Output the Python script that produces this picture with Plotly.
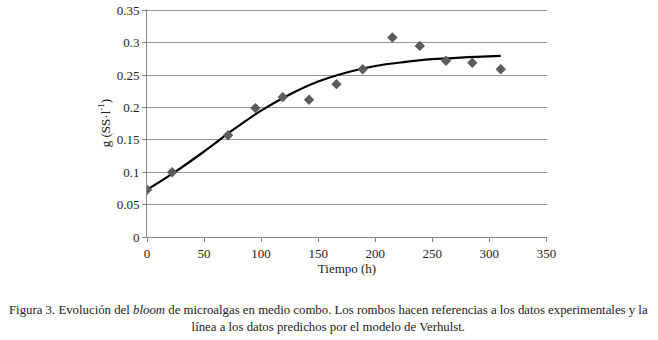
import plotly.graph_objects as go

# Experimental data (diamonds)
t_exp = [0, 22, 71, 95, 119, 142, 166, 189, 215, 239, 262, 285, 310]
g_exp = [0.073, 0.100, 0.157, 0.199, 0.216, 0.212, 0.236, 0.259, 0.308, 0.295, 0.272, 0.269, 0.259]

# Verhulst model prediction (line)
t_mod = [0, 25, 50, 75, 100, 125, 150, 175, 200, 225, 250, 275, 310]
g_mod = [0.073, 0.101, 0.132, 0.165, 0.195, 0.220, 0.240, 0.254, 0.264, 0.270, 0.2745, 0.277, 0.2795]

x_ticks = [0, 50, 100, 150, 200, 250, 300, 350]
y_ticks = [0, 0.05, 0.1, 0.15, 0.2, 0.25, 0.3, 0.35]
y_ticklabels = ["0", "0.05", "0.1", "0.15", "0.2", "0.25", "0.3", "0.35"]

FONT = "Liberation Serif, DejaVu Serif, serif"

fig = go.Figure()
fig.add_trace(go.Scatter(x=t_mod, y=g_mod, mode="lines", line=dict(color="black", width=2.2, shape="spline"),
                         showlegend=False, hoverinfo="skip"))
fig.add_trace(go.Scatter(x=t_exp, y=g_exp, mode="markers",
                         marker=dict(symbol="diamond", size=8, color="#5c5c5c"), showlegend=False))

fig.update_layout(
    width=658, height=340,
    margin=dict(l=147, r=111, t=9, b=103, autoexpand=False),
    paper_bgcolor="white", plot_bgcolor="white",
    font=dict(family=FONT, size=13, color="#222"),
    xaxis=dict(range=[0, 350.5], tickvals=x_ticks, showgrid=False, zeroline=False, automargin=False,
               showline=True, linecolor="#888", linewidth=1, ticks="outside", ticklen=4, tickcolor="#888",
               ticklabeloverflow="allow",
               tickfont=dict(family=FONT, size=13), title=dict(text="Tiempo (h)", standoff=3,
               font=dict(family=FONT, size=13))),
    yaxis=dict(range=[0, 0.352], tickvals=y_ticks, ticktext=y_ticklabels, showgrid=True, gridcolor="#999",
               gridwidth=1, zeroline=False, showline=True, linecolor="#888", linewidth=1, automargin=False,
               ticks="outside", ticklen=4, tickcolor="#888", tickfont=dict(family=FONT, size=13),
               ticklabeloverflow="allow",
               title=dict(text="g (SS·l<sup>-1</sup>)", standoff=3, font=dict(family=FONT, size=13))),
)

fig.add_annotation(
    xref="paper", yref="paper", x=0.454, y=-0.357, xanchor="center", yanchor="middle",
    text="Figura 3. Evolución del <i>bloom</i> de microalgas en medio combo. Los rombos hacen referencias a los datos experimentales y la<br>línea a los datos predichos por el modelo de Verhulst.",
    showarrow=False, align="center", font=dict(family=FONT, size=12.8, color="#222"))

fig.write_html("out.html", config={"displayModeBar": False},
               post_script="document.body.style.margin='0';")
